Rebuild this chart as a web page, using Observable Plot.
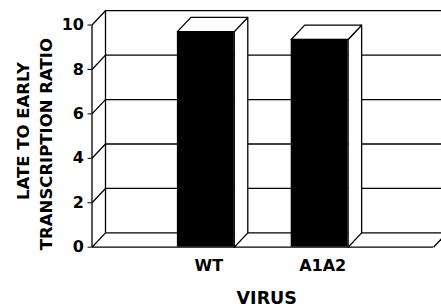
<!DOCTYPE html>
<html>
<head>
<meta charset="utf-8">
<script src="https://cdn.jsdelivr.net/npm/d3@7"></script>
<script src="https://cdn.jsdelivr.net/npm/@observablehq/plot@0.6"></script>
<style>
  html, body { margin: 0; padding: 0; background: white; overflow: hidden; }
  #chart svg { overflow: hidden; }
</style>
</head>
<body>
<div id="chart"></div>
<script>
// ---- data ----
const categories = ["WT", "A1A2"];
const ratios = [9.7, 9.35];
const yTicks = [0, 2, 4, 6, 8, 10];
const yTitleLines = ["LATE TO EARLY", "TRANSCRIPTION RATIO"];
const xTitle = "VIRUS";

// ---- layout ----
const W = 441, H = 308;
const mL = 91.5, mR = 8, mT = 24.5, mB = 61.3;
const xDomain = [0, 3];
const yDomain = [0, 10];
const halfBar = 0.25;
const depthPx = [13.5, 14.3];
const pxX = (W - mL - mR) / (xDomain[1] - xDomain[0]);
const pxY = (H - mT - mB) / (yDomain[1] - yDomain[0]);
const DX = depthPx[0] / pxX;
const DY = depthPx[1] / pxY;

const bars = categories.map((c, i) => ({c, pos: i + 1, v: ratios[i]}));

const sidePts = bars.flatMap(b => {
  const x2 = b.pos + halfBar;
  return [[x2, 0], [x2, b.v], [x2 + DX, b.v + DY], [x2 + DX, DY], [x2, 0]]
    .map(([x, y]) => ({k: b.c, x, y}));
});
const topPts = bars.flatMap(b => {
  const x1 = b.pos - halfBar, x2 = b.pos + halfBar;
  return [[x1, b.v], [x2, b.v], [x2 + DX, b.v + DY], [x1 + DX, b.v + DY], [x1, b.v]]
    .map(([x, y]) => ({k: b.c, x, y}));
});

const sw = 1.3;
const chart = Plot.plot({
  width: W, height: H,
  marginLeft: mL, marginRight: mR, marginTop: mT, marginBottom: mB,
  style: {fontFamily: "'DejaVu Sans', sans-serif", fontSize: "16px", fontWeight: "bold", background: "white", color: "black"},
  x: {domain: xDomain, axis: null},
  y: {domain: yDomain, ticks: yTicks, tickSize: 4, tickPadding: 4, label: null},
  marks: [
    // back wall lines (gridlines, top, floor back edge)
    Plot.ruleY(yTicks, {dx: depthPx[0], dy: -depthPx[1], stroke: "black", strokeWidth: sw}),
    // back axis
    Plot.ruleX([xDomain[0]], {dx: depthPx[0], dy: -depthPx[1], stroke: "black", strokeWidth: sw}),
    // front axis
    Plot.ruleX([xDomain[0]], {stroke: "black", strokeWidth: sw}),
    // floor front edge
    Plot.ruleY([0], {stroke: "black", strokeWidth: sw}),
    // side wall diagonals
    Plot.link(yTicks, {x1: xDomain[0], y1: d => d, x2: xDomain[0] + DX, y2: d => d + DY, stroke: "black", strokeWidth: sw}),
    // floor right edge
    Plot.link([0], {x1: xDomain[1], y1: 0, x2: xDomain[1] + DX, y2: DY, stroke: "black", strokeWidth: sw}),
    // bars
    Plot.line(sidePts, {x: "x", y: "y", z: "k", fill: "white", stroke: "black", strokeWidth: sw}),
    Plot.line(topPts, {x: "x", y: "y", z: "k", fill: "white", stroke: "black", strokeWidth: sw}),
    Plot.rect(bars, {x1: d => d.pos - halfBar, x2: d => d.pos + halfBar, y1: 0, y2: "v", fill: "black"}),
    // category labels
    Plot.text(bars, {x: "pos", y: 0, text: "c", lineAnchor: "top", dy: 12, dx: 3, fontSize: 16}),
    // x title
    Plot.text([xTitle], {frameAnchor: "bottom", lineAnchor: "middle", dx: 4, dy: 51, fontSize: 17.5}),
    // y title lines
    Plot.text([yTitleLines[0]], {frameAnchor: "left", textAnchor: "middle", rotate: -90, lineAnchor: "middle", dx: 23 - mL, dy: -5, fontSize: 16.5}),
    Plot.text([yTitleLines[1]], {frameAnchor: "left", textAnchor: "middle", rotate: -90, lineAnchor: "middle", dx: 46 - mL, dy: 8, fontSize: 16.5})
  ]
});
document.getElementById("chart").appendChild(chart);
</script>
</body>
</html>
